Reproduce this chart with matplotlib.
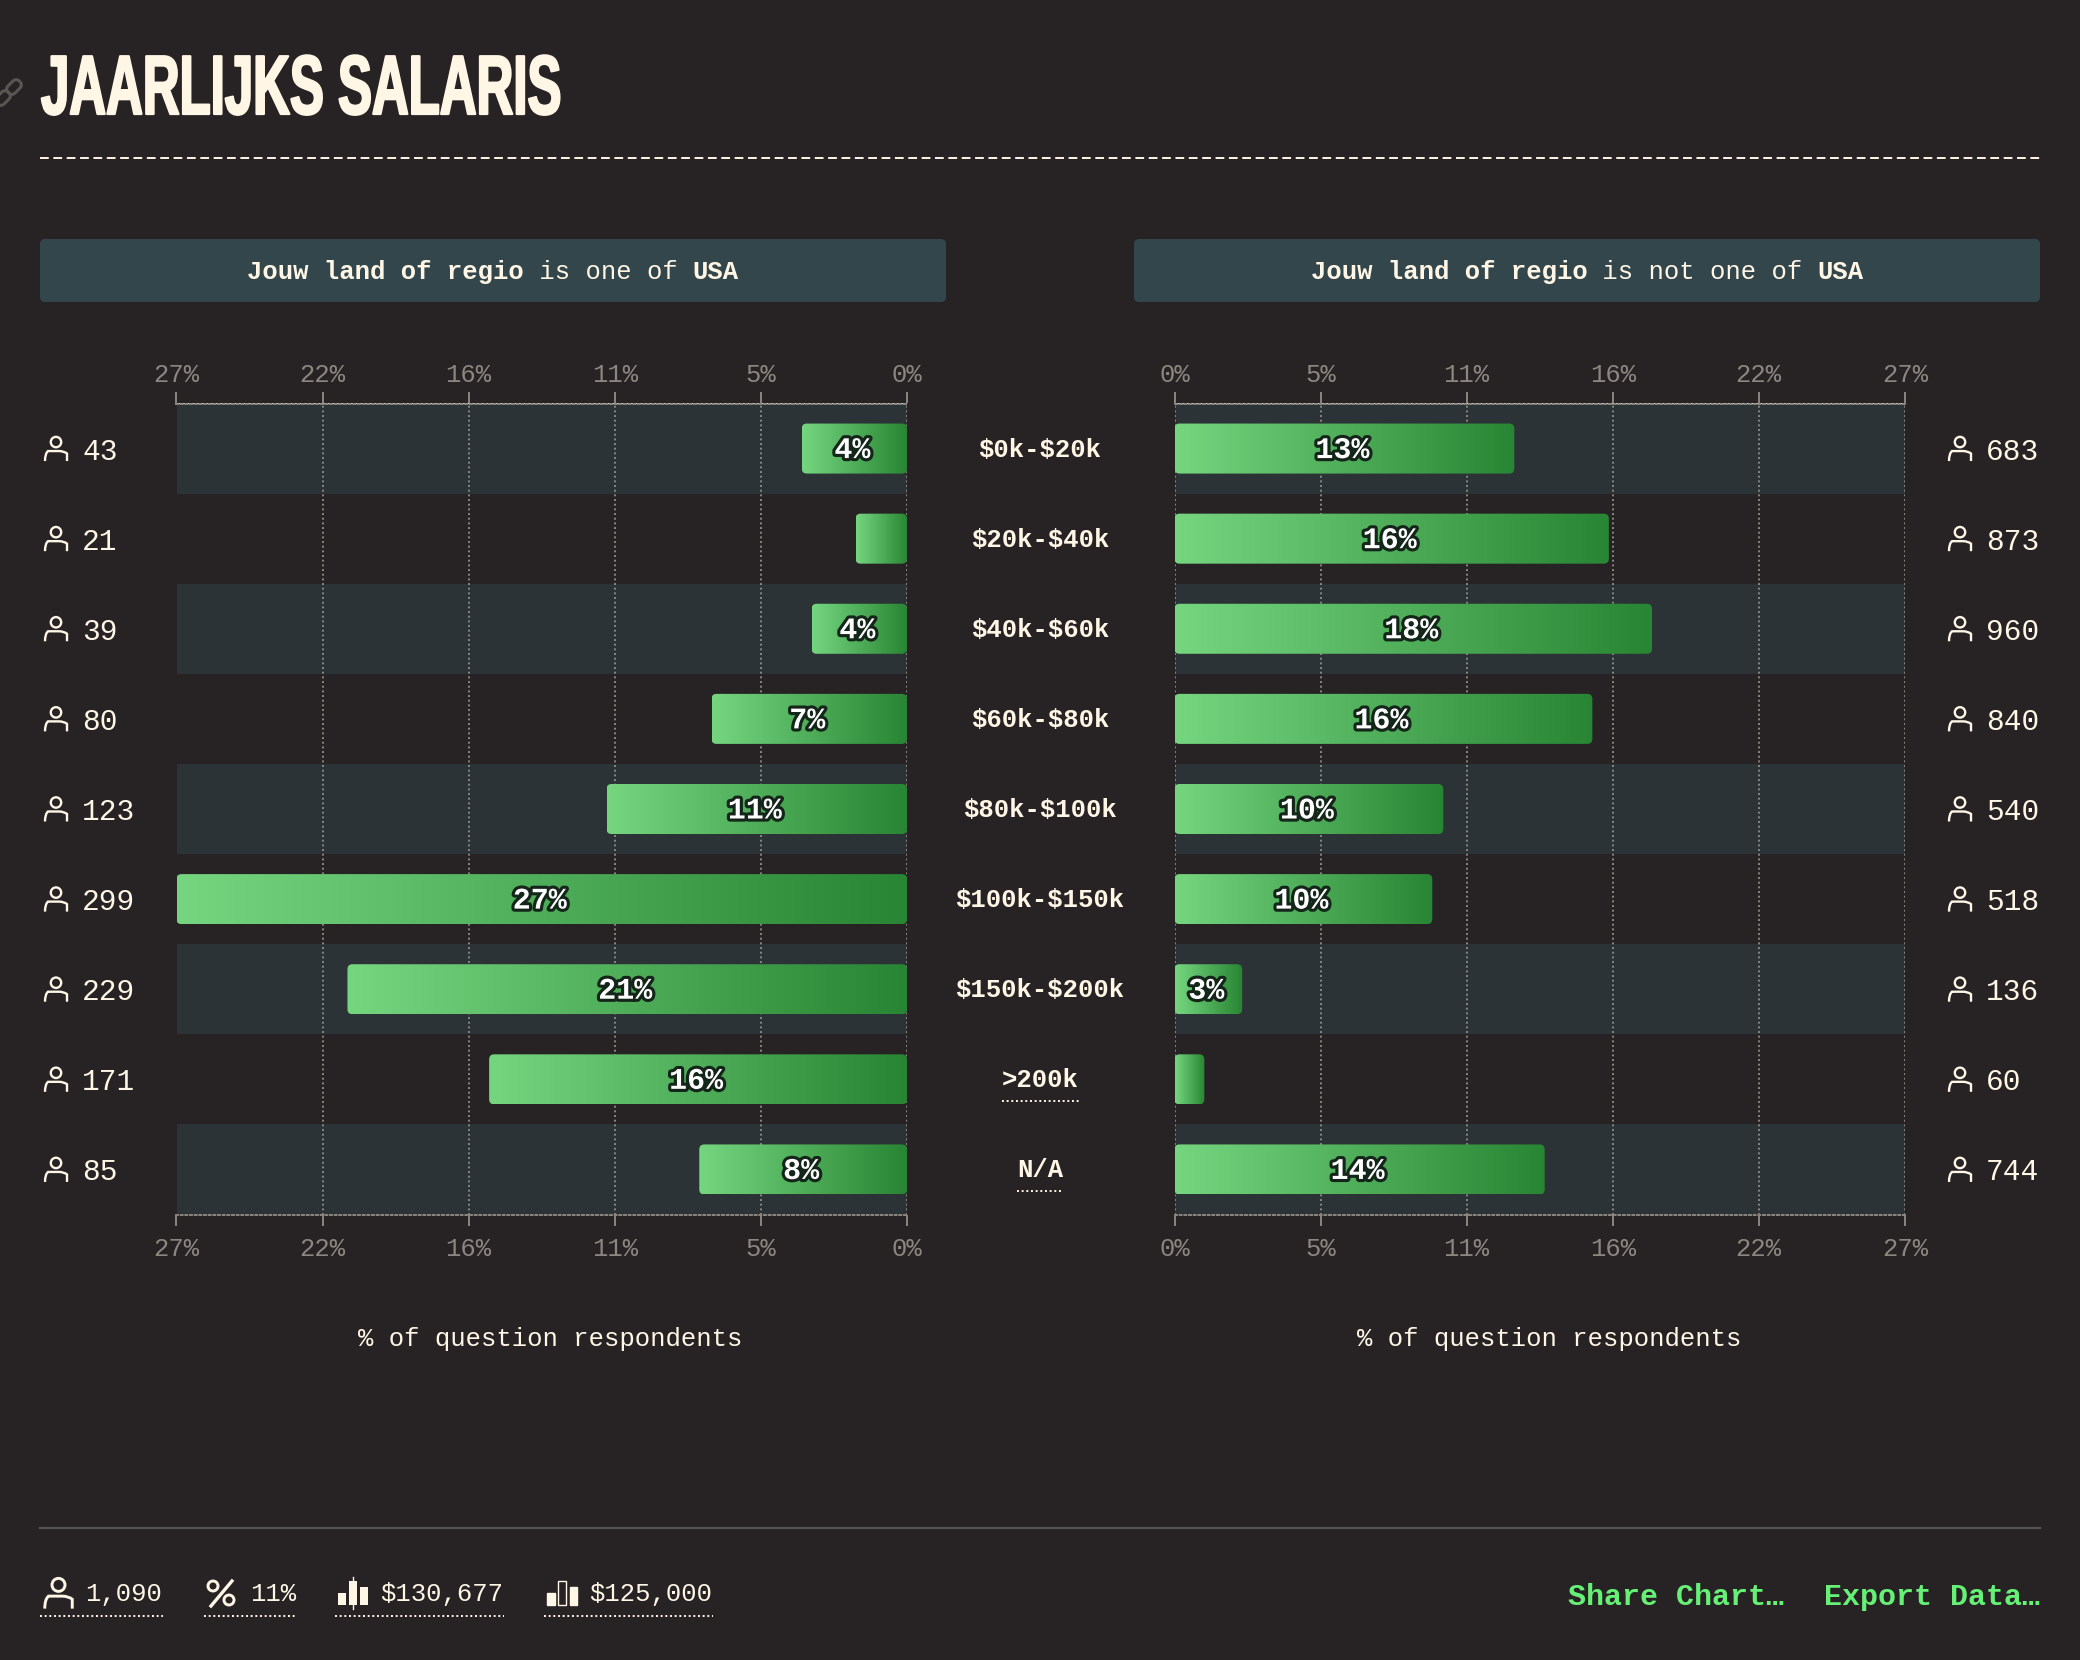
import numpy as np
import matplotlib
matplotlib.use("Agg")
import matplotlib.pyplot as plt
from matplotlib.colors import LinearSegmentedColormap
from matplotlib.patches import Circle, FancyBboxPatch, PathPatch, Rectangle
from matplotlib.path import Path
from matplotlib.patheffects import AbstractPathEffect, withStroke
from matplotlib.transforms import Affine2D, IdentityTransform

W, H = 2080, 1660

categories = ["$0k-$20k", "$20k-$40k", "$40k-$60k", "$60k-$80k", "$80k-$100k",
              "$100k-$150k", "$150k-$200k", ">200k", "N/A"]
counts_usa = [43, 21, 39, 80, 123, 299, 229, 171, 85]
counts_other = [683, 873, 960, 840, 540, 518, 136, 60, 744]
pct_usa = [3.95, 1.93, 3.58, 7.34, 11.28, 27.43, 21.01, 15.69, 7.80]
pct_other = [12.76, 16.31, 17.93, 15.69, 10.09, 9.68, 2.54, 1.12, 13.90]
labels_usa = ["4%", "", "4%", "7%", "11%", "27%", "21%", "16%", "8%"]
labels_other = ["13%", "16%", "18%", "16%", "10%", "10%", "3%", "", "14%"]
tick_values = [0, 5.49, 10.97, 16.46, 21.94, 27.43]
tick_labels = ["0%", "5%", "11%", "16%", "22%", "27%"]
footer_stats = ["1,090", "11%", "$130,677", "$125,000"]

BG = "#272324"
STRIPE = "#2c3336"
HEADER = "#33464b"
CREAM = "#fff6e6"
GREY = "#8b8680"
GREEN = "#66f076"
MONO = ["Liberation Mono", "DejaVu Sans Mono"]
DOTS = (0, (1, 1.4))

plt.rcParams["font.family"] = MONO
plt.rcParams["text.parse_math"] = False  # labels are full of dollar signs
bar_cmap = LinearSegmentedColormap.from_list("bar", ["#76d680", "#288533"])


def px(size):
    return size * 72 / 100


class Squeeze(AbstractPathEffect):
    # narrows a text around its left edge, the title font is much more condensed than what is installed
    def __init__(self, sx, stroke):
        super().__init__()
        self.sx = sx
        self.stroke = stroke

    def draw_path(self, renderer, gc, tpath, affine, rgbFace=None):
        x0 = affine.get_matrix()[0, 2]
        squeeze = Affine2D().translate(-x0, 0).scale(self.sx, 1).translate(x0, 0)
        gc0 = renderer.new_gc()
        gc0.copy_properties(gc)
        gc0.set_linewidth(self.stroke)
        gc0.set_foreground(rgbFace)
        renderer.draw_path(gc0, tpath, affine + squeeze, rgbFace)
        gc0.restore()


fig = plt.figure(figsize=(W / 100, H / 100), dpi=100, facecolor=BG)


def make_axes(x0, x1, xlim):
    ax = fig.add_axes([x0 / W, 1 - 1214.5 / H, (x1 - x0) / W, 811 / H])
    ax.set_facecolor("none")
    ax.set_xlim(*xlim)
    ax.set_ylim(8.5, -0.5)
    ax.set_yticks([])
    ax.set_xticks(tick_values, tick_labels)
    ax.tick_params(axis="x", length=8, width=1.4, color=GREY, labelcolor=GREY,
                   labelsize=px(25.6), pad=8.5)
    top = ax.secondary_xaxis("top")
    top.set_xticks(tick_values, tick_labels)
    top.tick_params(axis="x", length=8, width=1.4, color=GREY, labelcolor=GREY,
                    labelsize=px(25.6), pad=4)
    top.spines["top"].set_visible(False)
    ax.grid(axis="x", color=GREY, linestyle=DOTS, linewidth=1.4)
    ax.set_axisbelow(True)
    for side in ["left", "right"]:
        ax.spines[side].set_visible(False)
    for side in ["top", "bottom"]:
        ax.spines[side].set_color(GREY)
        ax.spines[side].set_linewidth(1.4)
        ax.spines[side].set_linestyle(DOTS)
    for i in range(0, 9, 2):
        ax.axhspan(i - 0.5, i + 0.5, color=STRIPE, lw=0, zorder=0)
    return ax


def draw_bars(ax, values, labels, reverse):
    bars = ax.barh(range(9), values, height=0.555, color="none", zorder=2)
    ramp = np.linspace(0, 1, 256).reshape(1, -1)
    for bar, val, lab in zip(bars, values, labels):
        y0, h = bar.get_y(), bar.get_height()
        extent = (val, 0, y0 + h, y0) if reverse else (0, val, y0 + h, y0)
        im = ax.imshow(ramp, cmap=bar_cmap, extent=extent, aspect="auto", zorder=2,
                       interpolation="bilinear")
        box = bar.get_window_extent()
        clip = FancyBboxPatch((box.x0, box.y0), box.width, box.height,
                              boxstyle="round,pad=0,rounding_size=5",
                              transform=IdentityTransform())
        im.set_clip_path(clip)
        if lab:
            ax.annotate(lab, (val / 2, y0 + h / 2), xytext=(-2, -1.5), textcoords="offset pixels",
                        ha="center", va="center", color="white",
                        fontsize=px(30), fontweight="bold", zorder=4,
                        path_effects=[withStroke(linewidth=4.5, foreground="#14251a")])
    ax.set_xlim(*((27.43, 0) if reverse else (0, 27.43)))
    ax.set_ylim(8.5, -0.5)


ax_usa = make_axes(176.5, 907, (27.43, 0))
ax_other = make_axes(1174.5, 1905, (0, 27.43))
draw_bars(ax_usa, pct_usa, labels_usa, True)
draw_bars(ax_other, pct_other, labels_other, False)

# pixel overlay for everything around the two charts
ov = fig.add_axes([0, 0, 1, 1], facecolor="none")
ov.set_xlim(0, W)
ov.set_ylim(H, 0)
ov.axis("off")


def person(cx, cy, s=1.0, lw=1.7):
    ov.add_patch(Circle((cx, cy - 6.5 * s), 5.2 * s, fill=False, ec=CREAM, lw=lw))
    verts = [(-11 * s, 12.5 * s), (-11 * s, 5 * s), (-8 * s, 2.5 * s), (-3 * s, 2.5 * s),
             (3 * s, 2.5 * s), (8 * s, 2.5 * s), (11 * s, 5 * s), (11 * s, 12.5 * s)]
    codes = [Path.MOVETO, Path.CURVE3, Path.CURVE3, Path.LINETO,
             Path.LINETO, Path.CURVE3, Path.CURVE3, Path.LINETO]
    verts = [(cx + a, cy + b) for a, b in verts]
    ov.add_patch(PathPatch(Path(verts, codes), fill=False, ec=CREAM, lw=lw))


def mixed_line(center, y, parts, size):
    # monospace font: one char is 0.6 em
    total = sum(len(t) for t, _ in parts) * size * 0.6
    x = center - total / 2
    for t, weight in parts:
        ov.text(x, y, t, ha="left", va="center", color=CREAM, fontsize=px(size), fontweight=weight)
        x += len(t) * size * 0.6


# title and rule
ov.text(41, 114, "JAARLIJKS SALARIS", ha="left", va="baseline", color=CREAM, fontsize=px(84),
        fontweight="bold", family=["Liberation Sans Narrow", "Liberation Sans", "DejaVu Sans"],
        path_effects=[Squeeze(0.606, 1.6)])
ov.plot([40, 2040], [158, 158], color=CREAM, lw=1.4, linestyle=(0, (4.5, 2.37)))

# link icon, cut by the left edge
for cx, cy in [(3, 98), (14, 87)]:
    ov.add_patch(FancyBboxPatch((cx - 8, cy - 5), 16, 10, boxstyle="round,pad=0,rounding_size=5",
                                fill=False, ec="#595553", lw=2.2,
                                transform=Affine2D().rotate_deg_around(cx, cy, -45) + ov.transData))

# filter headers
for x0, x1, center, word in [(40, 946, 493, "is one of "), (1134, 2040, 1587, "is not one of ")]:
    ov.add_patch(FancyBboxPatch((x0, 239), x1 - x0, 63, boxstyle="round,pad=0,rounding_size=5",
                                fc=HEADER, ec="none"))
    mixed_line(center, 272, [("Jouw land of regio", "bold"), (" " + word, "normal"), ("USA", "bold")], 25.6)

# row labels
for i, (cat, left, right) in enumerate(zip(categories, counts_usa, counts_other)):
    y = H - ax_usa.transData.transform((0, i))[1]
    person(56, y)
    ov.text(82, y + 3, str(left), ha="left", va="center", color=CREAM, fontsize=px(29.5))
    person(1960, y)
    ov.text(1986, y + 3, str(right), ha="left", va="center", color=CREAM, fontsize=px(29.5))
    ov.text(1040, y + 1, cat, ha="center", va="center", color=CREAM, fontsize=px(25.6), fontweight="bold")
    if cat in [">200k", "N/A"]:
        half = len(cat) * 7.7
        ov.plot([1040 - half, 1040 + half], [y + 22, y + 22], color=CREAM, lw=1.4, linestyle=DOTS)

for center in [550, 1549]:
    ov.text(center, 1339, "% of question respondents", ha="center", va="center",
            color=CREAM, fontsize=px(25.6))

# footer
ov.plot([40, 2040], [1528, 1528], color="#555253", lw=1.5)
person(58.5, 1593, 1.25, 2.1)
ov.add_patch(Circle((213, 1586), 5, fill=False, ec=CREAM, lw=2.1))
ov.add_patch(Circle((229, 1600), 5, fill=False, ec=CREAM, lw=2.1))
ov.plot([211, 232], [1606, 1581], color=CREAM, lw=2.4)
for x0, top in [(338, 1593), (349, 1581), (360, 1587)]:
    ov.add_patch(Rectangle((x0, top), 7.5, 1605 - top, fc=CREAM, ec="none"))
ov.plot([353, 353], [1577, 1609], color=CREAM, lw=1)
for x0, top, solid in [(547, 1593, True), (558, 1581, False), (569.5, 1587, True)]:
    ov.add_patch(Rectangle((x0, top), 7.5, 1605 - top, fc=CREAM if solid else "none", ec=CREAM, lw=1))
for stat, xt, x0, x1 in zip(footer_stats, [85, 250, 380, 589], [40, 204, 335, 544], [163, 295, 504, 713]):
    ov.text(xt, 1594, stat, ha="left", va="center", color=CREAM, fontsize=px(25.6))
    ov.plot([x0, x1], [1616, 1616], color=CREAM, lw=1.4, linestyle=DOTS)
ov.text(1568, 1597, "Share Chart…", ha="left", va="center", color=GREEN, fontsize=px(30), fontweight="bold")
ov.text(1824, 1597, "Export Data…", ha="left", va="center", color=GREEN, fontsize=px(30), fontweight="bold")

fig.savefig("out.png", dpi=100, facecolor=BG)
